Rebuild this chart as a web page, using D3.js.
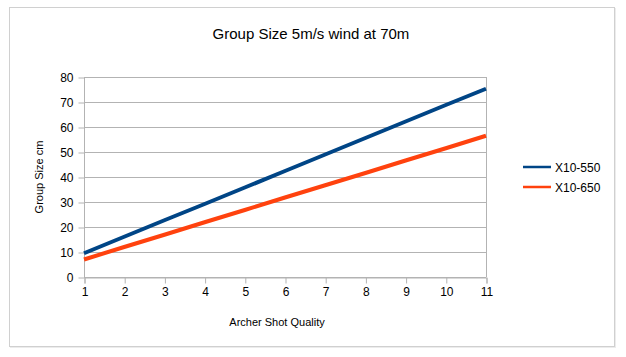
<!DOCTYPE html>
<html><head><meta charset="utf-8">
<script src="https://cdn.jsdelivr.net/npm/d3@7"></script>
<style>body{margin:0;background:#fff}svg{display:block;font-family:"Liberation Sans",Arial,sans-serif}</style>
</head><body><svg id="c" width="626" height="357"></svg>
<script>
const xValues = [1,2,3,4,5,6,7,8,9,10,11];
const seriesNames = ["X10-550","X10-650"];
const x10_550 = [9.5,16.1,22.7,29.2,35.8,42.4,49,55.6,62.2,68.8,75.3];
const x10_650 = [7,12,16.9,21.9,26.8,31.8,36.7,41.6,46.6,51.5,56.5];
const yTicks = [0,10,20,30,40,50,60,70,80];
const colors = ["#004586","#ff420e"];
const title = "Group Size 5m/s wind at 70m";
const xTitle = "Archer Shot Quality";
const yTitle = "Group Size cm";

const svg = d3.select("#c");
svg.append("rect").attr("x",9.5).attr("y",7.5).attr("width",605).attr("height",339)
  .attr("fill","#fff").attr("stroke","#d0d0d0");
svg.append("line").attr("x1",10).attr("x2",615).attr("y1",347.5).attr("y2",347.5).attr("stroke","#ececec");
svg.append("line").attr("x1",615.5).attr("x2",615.5).attr("y1",8).attr("y2",348).attr("stroke","#ececec");

const x = d3.scaleLinear().domain([1,11]).range([84,486]);
const y = d3.scaleLinear().domain([0,80]).range([277,77]);

svg.append("g").selectAll("line").data(yTicks).join("line")
  .attr("x1",84).attr("x2",486).attr("y1",d=>Math.round(y(d))+0.5).attr("y2",d=>Math.round(y(d))+0.5)
  .attr("stroke","#b3b3b3");
svg.append("line").attr("x1",486.5).attr("x2",486.5).attr("y1",77).attr("y2",277).attr("stroke","#b3b3b3");

const ya = svg.append("g").attr("transform","translate(84.5,0.5)")
  .call(d3.axisLeft(y).tickValues(yTicks).tickSize(6).tickPadding(5));
const xa = svg.append("g").attr("transform","translate(0.5,277.5)")
  .call(d3.axisBottom(x).tickValues(xValues).tickSize(6).tickPadding(4).tickFormat(d3.format("d")));
[ya,xa].forEach(a=>{
  a.select(".domain").attr("stroke","#b3b3b3");
  a.selectAll(".tick line").attr("stroke","#b3b3b3");
  a.selectAll("text").attr("fill","#000").attr("font-size","12px").attr("font-family","Liberation Sans, Arial, sans-serif");
});
ya.select(".domain").attr("d","M0,"+(y(80)-0.5)+"V"+(y(0)-0.5));

const line = d3.line().x((d,i)=>x(xValues[i])).y(d=>y(d));
[x10_550,x10_650].forEach((s,i)=>{
  svg.append("path").attr("d",line(s)).attr("fill","none").attr("stroke",colors[i])
    .attr("stroke-width",4).attr("stroke-linecap","butt");
});

svg.append("text").attr("x",311).attr("y",39).attr("text-anchor","middle")
  .attr("font-size","15px").text(title);
svg.append("text").attr("x",277).attr("y",326).attr("text-anchor","middle")
  .attr("font-size","11px").text(xTitle);
svg.append("text").attr("transform","translate(43,177) rotate(-90)").attr("text-anchor","middle")
  .attr("font-size","11px").text(yTitle);

seriesNames.forEach((n,i)=>{
  const ly = 167 + i*20;
  svg.append("line").attr("x1",523).attr("x2",551).attr("y1",ly).attr("y2",ly)
    .attr("stroke",colors[i]).attr("stroke-width",2.5);
  svg.append("text").attr("x",555).attr("y",ly+4.5).attr("font-size","12px").text(n);
});
</script></body></html>
